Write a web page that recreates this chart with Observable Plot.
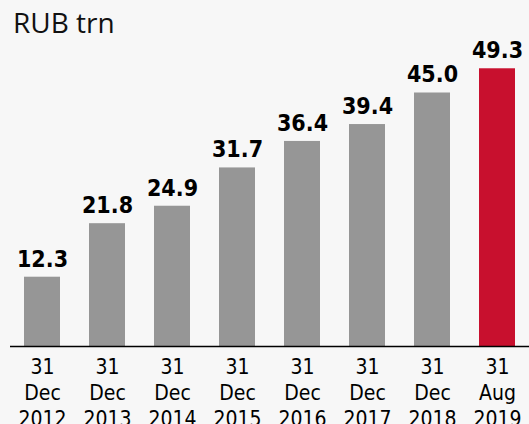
<!DOCTYPE html>
<html>
<head>
<meta charset="utf-8">
<script src="https://cdn.jsdelivr.net/npm/d3@7"></script>
<script src="https://cdn.jsdelivr.net/npm/@observablehq/plot@0.6"></script>
<style>
  html, body { margin: 0; padding: 0; background: #f7f7f7; }
  #wrap { position: relative; width: 529px; height: 424px; overflow: hidden; background: #f7f7f7; }
  #title { position: absolute; left: 13px; top: 8px; font-family: "Open Sans", sans-serif; font-size: 28px; line-height: 28px; color: #111; }
  svg { display: block; }
</style>
</head>
<body>
<div id="wrap">
  <div id="title">RUB trn</div>
</div>
<script>
const dates = ["31 Dec 2012", "31 Dec 2013", "31 Dec 2014", "31 Dec 2015", "31 Dec 2016", "31 Dec 2017", "31 Dec 2018", "31 Aug 2019"];
const values = [12.3, 21.8, 24.9, 31.7, 36.4, 39.4, 45.0, 49.3];
const highlight = [false, false, false, false, false, false, false, true];

const data = dates.map((d, i) => ({date: d, value: values[i], hl: highlight[i]}));

const chart = Plot.plot({
  width: 529,
  height: 424,
  marginTop: 8,
  marginBottom: 78,
  marginLeft: 10,
  marginRight: 0,
  style: {background: "#f7f7f7", fontFamily: "'DejaVu Sans Condensed', 'Liberation Sans', sans-serif"},
  x: {domain: dates, padding: 0.447, paddingOuter: 0.207, label: null},
  y: {domain: [0, 60], axis: null},
  marks: [
    Plot.barY(data, {x: "date", y: "value", fill: d => d.hl ? "#c8102e" : "#969696"}),
    Plot.text(data, {x: "date", y: "value", text: d => d.value.toFixed(1), lineAnchor: "bottom", dy: -10.7, fontSize: 23, fontWeight: "bold", fill: "#000"}),
    Plot.ruleY([0], {stroke: "#000", strokeWidth: 1.3}),
    Plot.axisX({tickSize: 0, tickPadding: 9, fontSize: 21, lineHeight: 1.238, tickFormat: d => d.split(" ").join("\n"), label: null, fill: "#000"})
  ]
});
document.getElementById("wrap").appendChild(chart);
</script>
</body>
</html>
